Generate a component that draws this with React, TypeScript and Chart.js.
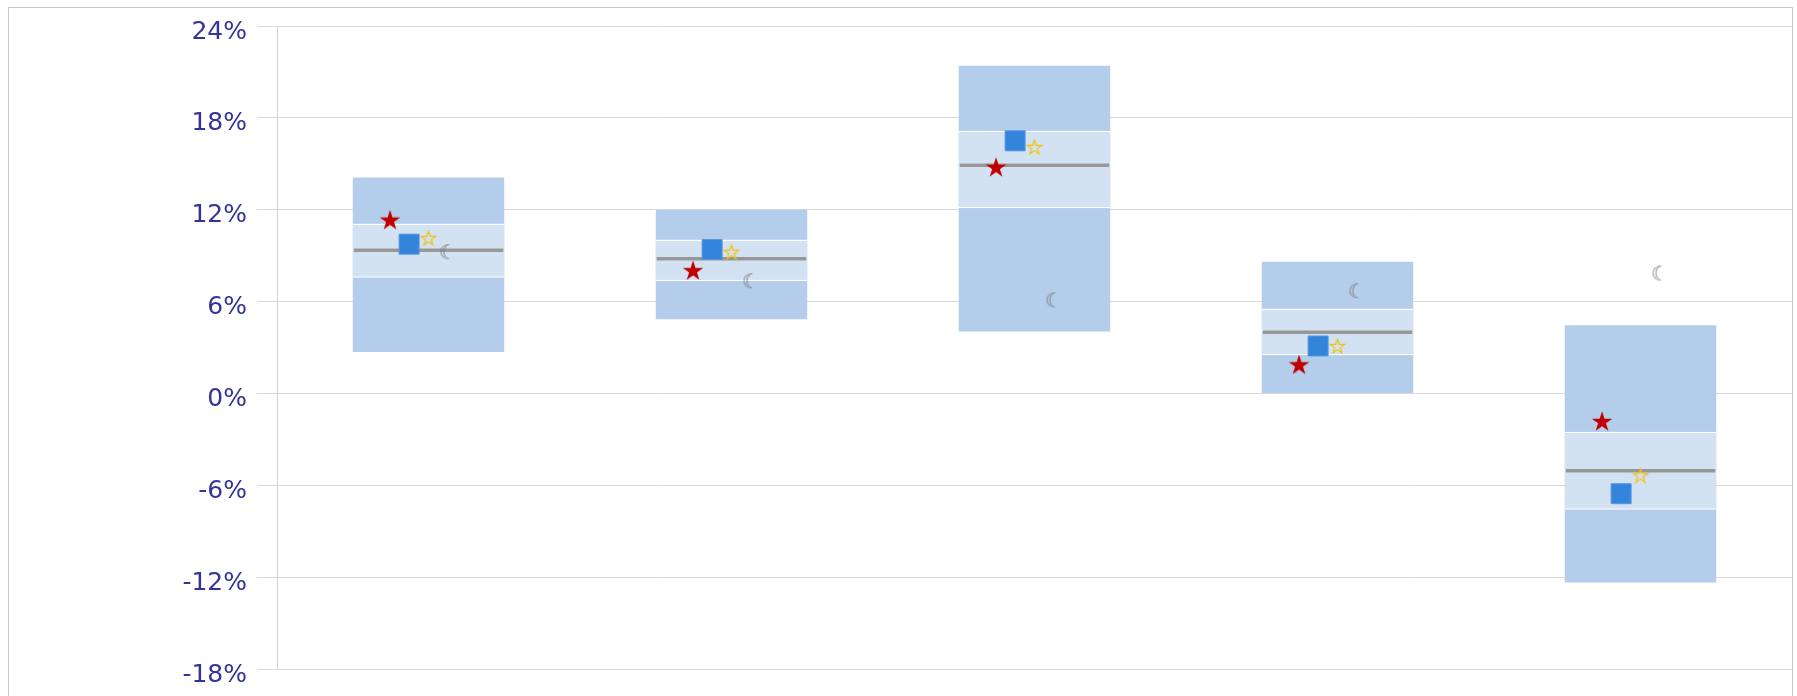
import React, { useEffect, useRef } from "react";
import { Chart, registerables } from "chart.js";

Chart.register(...registerables);

// ---- data (values in %) ----
const categories = ["1", "2", "3", "4", "5"];
const lowValues = [2.7, 4.85, 4.05, 0.0, -12.35];
const q1Values = [7.55, 7.35, 12.1, 2.5, -7.6];
const medianValues = [9.35, 8.8, 14.9, 4.0, -5.05];
const q3Values = [11.1, 10.05, 17.15, 5.55, -2.5];
const highValues = [14.1, 12.0, 21.4, 8.6, 4.45];
const redStarValues = [11.35, 8.05, 14.8, 1.9, -1.8];
const blueSquareValues = [9.75, 9.4, 16.5, 3.1, -6.55];
const yellowStarValues = [10.15, 9.25, 16.1, 3.1, -5.35];
const moonValues = [9.1, 7.2, 5.95, 6.55, 7.7];
const yTickValues = [-18, -12, -6, 0, 6, 12, 18, 24];

// marker horizontal offsets, in fractions of a category
const OFF_RED = -0.127;
const OFF_BLUE = -0.064;
const OFF_YELLOW = 0;
const OFF_MOON = 0.063;

function makeStar(R: number, fill: string | null, stroke: string | null, lw: number) {
  const size = Math.ceil(R * 2 + 4);
  const c = document.createElement("canvas");
  c.width = size;
  c.height = size;
  const ctx = c.getContext("2d")!;
  const cx = size / 2;
  const cy = size / 2 + 0.0955 * R;
  ctx.beginPath();
  for (let k = 0; k < 10; k++) {
    const r = k % 2 === 0 ? R : R * 0.382;
    const a = -Math.PI / 2 + (k * Math.PI) / 5;
    const px = cx + r * Math.cos(a);
    const py = cy + r * Math.sin(a);
    if (k === 0) ctx.moveTo(px, py);
    else ctx.lineTo(px, py);
  }
  ctx.closePath();
  if (fill) {
    ctx.fillStyle = fill;
    ctx.fill();
  }
  if (stroke) {
    ctx.strokeStyle = stroke;
    ctx.lineWidth = lw;
    ctx.lineJoin = "miter";
    ctx.stroke();
  }
  return c;
}

function makeMoon() {
  const c = document.createElement("canvas");
  c.width = 26;
  c.height = 26;
  const ctx = c.getContext("2d")!;
  ctx.fillStyle = "#7c7c7c";
  ctx.font = "20px 'DejaVu Sans'";
  ctx.textAlign = "center";
  ctx.textBaseline = "middle";
  ctx.fillText("\u263E", 13, 13);
  return c;
}

const medianPlugin = {
  id: "medianLines",
  afterDatasetDraw(chart: any, args: any) {
    if (args.index !== 1) return;
    const y = chart.scales.y;
    const ctx = chart.ctx;
    ctx.save();
    ctx.strokeStyle = "#979797";
    ctx.lineWidth = 3.5;
    args.meta.data.forEach((bar: any, i: number) => {
      const { x, width } = bar.getProps(["x", "width"], true);
      const py = y.getPixelForValue(medianValues[i]);
      ctx.beginPath();
      ctx.moveTo(x - width / 2 + 1, py);
      ctx.lineTo(x + width / 2 - 1, py);
      ctx.stroke();
    });
    ctx.restore();
  },
};

export default function App() {
  const ref = useRef<HTMLCanvasElement>(null);

  useEffect(() => {
    if (!ref.current) return;
    const redStar = makeStar(10.8, "#c00000", null, 0);
    const yellowStar = makeStar(7.6, null, "#f2c200", 1.2);
    const moon = makeMoon();

    const pts = (vals: number[], off: number) => vals.map((v, i) => ({ x: i + off, y: v }));

    const chart = new Chart(ref.current, {
      type: "bar",
      data: {
        labels: categories,
        datasets: [
          {
            type: "bar",
            label: "range",
            data: lowValues.map((v, i) => [v, highValues[i]]),
            backgroundColor: "#b3cdeb",
            borderWidth: 0,
            barPercentage: 0.5,
            categoryPercentage: 1,
            grouped: false,
            order: 20,
          } as any,
          {
            type: "bar",
            label: "inner",
            data: q1Values.map((v, i) => [v, q3Values[i]]),
            backgroundColor: "#d3e2f3",
            borderColor: "#ffffff",
            borderWidth: { top: 1.5, bottom: 1.5, left: 0, right: 0 },
            borderSkipped: false,
            barPercentage: 0.5,
            categoryPercentage: 1,
            grouped: false,
            order: 10,
          } as any,
          {
            type: "scatter",
            label: "moon",
            data: pts(moonValues, OFF_MOON),
            xAxisID: "xm",
            pointStyle: moon,
            pointRadius: 8,
            order: 4,
          } as any,
          {
            type: "scatter",
            label: "yellow",
            data: pts(yellowStarValues, OFF_YELLOW),
            xAxisID: "xm",
            pointStyle: yellowStar,
            pointRadius: 8,
            order: 3,
          } as any,
          {
            type: "scatter",
            label: "blue",
            data: pts(blueSquareValues, OFF_BLUE),
            xAxisID: "xm",
            pointStyle: "rect",
            pointRadius: 14.14,
            backgroundColor: "#3384db",
            borderColor: "#5597e0",
            borderWidth: 1,
            order: 2,
          } as any,
          {
            type: "scatter",
            label: "red",
            data: pts(redStarValues, OFF_RED),
            xAxisID: "xm",
            pointStyle: redStar,
            pointRadius: 10,
            order: 1,
          } as any,
        ],
      },
      options: {
        animation: false,
        responsive: false,
        events: [],
        layout: { autoPadding: false, padding: { top: 18, right: 0, bottom: 57, left: 0 } },
        plugins: { legend: { display: false }, tooltip: { enabled: false } },
        scales: {
          x: {
            type: "category",
            offset: true,
            grid: { display: false },
            ticks: { display: false },
            border: { display: true, color: "#d9d9d9" },
            afterFit: (s: any) => {
              s.height = 0;
              s.paddingLeft = 0;
              s.paddingRight = 0;
            },
          },
          xm: {
            type: "linear",
            min: -0.5,
            max: 4.5,
            offset: false,
            display: false,
          },
          y: {
            type: "linear",
            min: -18,
            max: 24,
            afterBuildTicks: (s: any) => {
              s.ticks = yTickValues.map((v) => ({ value: v }));
            },
            grid: { color: "#d9d9d9", tickLength: 20, lineWidth: 1 },
            border: { display: true, color: "#d3d3d3" },
            ticks: {
              color: "#333399",
              font: { family: "'DejaVu Sans'", size: 25 },
              padding: 10,
              labelOffset: 6,
              callback: (v: any) => v + "%",
            },
            afterFit: (s: any) => {
              s.width = 268;
              s.paddingTop = 0;
              s.paddingBottom = 0;
            },
          },
        },
      } as any,
      plugins: [medianPlugin],
    });
    return () => chart.destroy();
  }, []);

  return (
    <div style={{ position: "fixed", left: 0, top: 0, right: 0, bottom: 0, overflow: "hidden" }}>
      <div
        style={{
          position: "absolute",
          left: 8,
          top: 7,
          width: 1785,
          height: 720,
          border: "1px solid #c8c8c8",
          boxSizing: "border-box",
          background: "#ffffff",
        }}
      >
        <canvas ref={ref} width={1783} height={718} style={{ display: "block" }} />
      </div>
    </div>
  );
}
